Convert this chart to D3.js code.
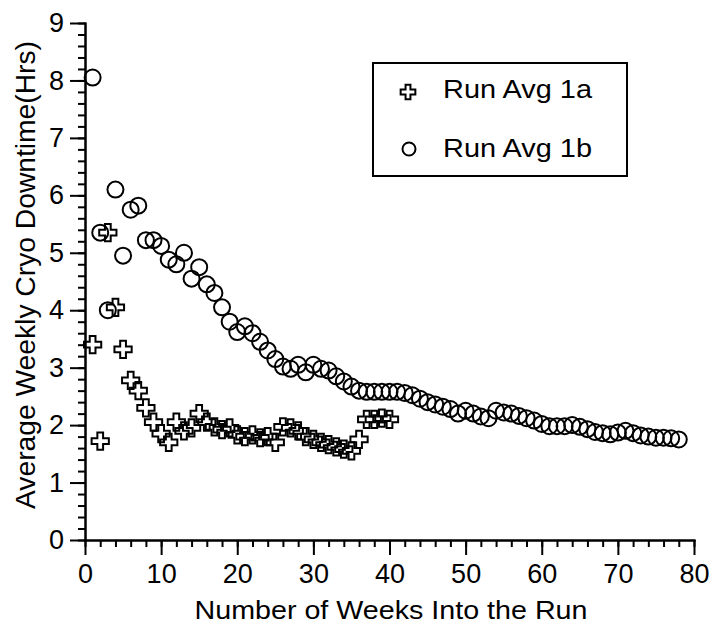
<!DOCTYPE html>
<html>
<head>
<meta charset="utf-8">
<script src="https://cdn.jsdelivr.net/npm/d3@7"></script>
<style>
	body { margin: 0; background: #fff; }
	svg { display: block; font-family: 'Liberation Sans', Arial, sans-serif; }
	.axis path, .axis line { stroke: #000; stroke-width: 2; }
	.axis text { font-size: 27px; fill: #000; }
	.title { font-size: 26px; fill: #000; }
	.legend text { font-size: 25px; fill: #000; }
</style>
</head>
<body>
<div id="chart"></div>
<script>
/*eslint-env browser, es6*/
/*global d3*/

// Run Avg 1a (crosses)
const weeks1a = [1, 2, 3, 4, 5, 6, 7, 8, 9, 10, 11, 12, 13, 14, 15, 16, 17, 18, 19, 20,
	21, 22, 23, 24, 25, 26, 27, 28, 29, 30, 31, 32, 33, 34, 35, 36, 37, 38, 39, 40]
const run1a = [3.4, 1.72, 5.35, 4.05, 3.32, 2.78, 2.6, 2.3, 2.05, 1.85, 1.7, 2.05, 1.9, 1.95, 2.2, 2.05, 1.97, 1.92, 1.95, 1.83,
	1.8, 1.83, 1.78, 1.8, 1.7, 1.97, 1.95, 1.9, 1.8, 1.75, 1.7, 1.66, 1.62, 1.58, 1.55, 1.75, 2.1, 2.1, 2.12, 2.1]

// Run Avg 1b (circles)
const weeks1b = [1, 2, 3, 4, 5, 6, 7, 8, 9, 10, 11, 12, 13, 14, 15, 16, 17, 18, 19, 20,
	21, 22, 23, 24, 25, 26, 27, 28, 29, 30, 31, 32, 33, 34, 35, 36, 37, 38, 39, 40,
	41, 42, 43, 44, 45, 46, 47, 48, 49, 50, 51, 52, 53, 54, 55, 56, 57, 58, 59, 60,
	61, 62, 63, 64, 65, 66, 67, 68, 69, 70, 71, 72, 73, 74, 75, 76, 77, 78]
const run1b = [8.05, 5.35, 4.0, 6.1, 4.95, 5.75, 5.82, 5.22, 5.22, 5.12, 4.88, 4.8, 5.0, 4.55, 4.75, 4.45, 4.3, 4.05, 3.8, 3.62,
	3.72, 3.6, 3.45, 3.3, 3.15, 3.02, 2.98, 3.05, 2.92, 3.05, 2.98, 2.95, 2.85, 2.76, 2.67, 2.6, 2.58, 2.58, 2.58, 2.58,
	2.58, 2.56, 2.52, 2.46, 2.4, 2.36, 2.32, 2.28, 2.2, 2.25, 2.2, 2.15, 2.12, 2.25, 2.22, 2.2, 2.16, 2.12, 2.08, 2.02,
	1.98, 1.98, 1.98, 2.0, 1.97, 1.93, 1.88, 1.86, 1.84, 1.87, 1.9, 1.86, 1.82, 1.8, 1.78, 1.78, 1.77, 1.75]

const xTicks = [0, 10, 20, 30, 40, 50, 60, 70, 80]
const yTicks = [0, 1, 2, 3, 4, 5, 6, 7, 8, 9]
const legendLabels = ['Run Avg 1a', 'Run Avg 1b']

const width = 711
const height = 624

const svg = d3.select('#chart').append('svg')
	.attr('width', width)
	.attr('height', height)

const x = d3.scaleLinear().domain([0, 80]).range([85, 694])
const y = d3.scaleLinear().domain([0, 9]).range([540, 23])

// minor ticks first, majors on top
svg.append('g')
	.attr('class', 'axis')
	.attr('transform', `translate(0,${y(0)})`)
	.call(d3.axisBottom(x).ticks(40).tickSize(7).tickFormat('').tickSizeOuter(0))

svg.append('g')
	.attr('class', 'axis')
	.attr('transform', `translate(0,${y(0)})`)
	.call(d3.axisBottom(x).tickValues(xTicks).tickSize(15).tickPadding(9).tickSizeOuter(0))

svg.append('g')
	.attr('class', 'axis')
	.attr('transform', `translate(${x(0)},0)`)
	.call(d3.axisLeft(y).ticks(45).tickSize(7).tickFormat('').tickSizeOuter(0))

svg.append('g')
	.attr('class', 'axis')
	.attr('transform', `translate(${x(0)},0)`)
	.call(d3.axisLeft(y).tickValues(yTicks).tickSize(15).tickPadding(6).tickSizeOuter(0))

svg.selectAll('.axis .domain').attr('stroke-linecap', 'square')

svg.append('text')
	.attr('class', 'title')
	.attr('x', 391).attr('y', 619)
	.attr('text-anchor', 'middle')
	.attr('textLength', 393).attr('lengthAdjust', 'spacingAndGlyphs')
	.text('Number of Weeks Into the Run')

svg.append('text')
	.attr('class', 'title')
	.attr('transform', 'translate(35,275) rotate(-90)')
	.attr('text-anchor', 'middle')
	.attr('textLength', 468).attr('lengthAdjust', 'spacingAndGlyphs')
	.style('font-size', '27px')
	.text('Average Weekly Cryo Downtime(Hrs)')

const cross = d3.symbol().type(d3.symbolCross).size(165)

svg.append('g').selectAll('circle')
	.data(weeks1b.map((w, i) => [w, run1b[i]]))
	.join('circle')
	.attr('cx', d => x(d[0]))
	.attr('cy', d => y(d[1]))
	.attr('r', 8)
	.attr('fill', 'none')
	.attr('stroke', '#000')
	.attr('stroke-width', 2)

svg.append('g').selectAll('path')
	.data(weeks1a.map((w, i) => [w, run1a[i]]))
	.join('path')
	.attr('transform', d => `translate(${x(d[0])},${y(d[1])})`)
	.attr('d', cross)
	.attr('fill', 'none')
	.attr('stroke', '#000')
	.attr('stroke-width', 2)

// legend
const legend = svg.append('g').attr('class', 'legend')

legend.append('rect')
	.attr('x', 373).attr('y', 63)
	.attr('width', 254).attr('height', 113)
	.attr('fill', 'none')
	.attr('stroke', '#000')
	.attr('stroke-width', 2)

legend.append('path')
	.attr('transform', 'translate(408,92)')
	.attr('d', d3.symbol().type(d3.symbolCross).size(120))
	.attr('fill', 'none')
	.attr('stroke', '#000')
	.attr('stroke-width', 2)

legend.append('circle')
	.attr('cx', 409).attr('cy', 149)
	.attr('r', 6.5)
	.attr('fill', 'none')
	.attr('stroke', '#000')
	.attr('stroke-width', 2)

legend.selectAll('text')
	.data(legendLabels)
	.join('text')
	.attr('x', 443)
	.attr('y', (d, i) => [98, 157][i])
	.attr('textLength', 149).attr('lengthAdjust', 'spacingAndGlyphs')
	.text(d => d)
</script>
</body>
</html>
